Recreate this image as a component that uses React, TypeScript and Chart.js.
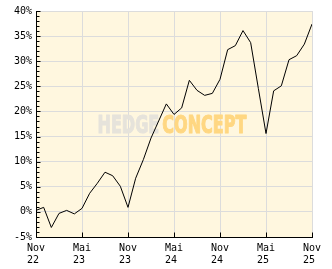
import React, { useEffect, useRef } from 'react';
import { Chart, registerables } from 'chart.js';

Chart.register(...registerables);

// Monthly performance values (%), Nov 2022 .. Nov 2025
const perfValues = [
  0.3, 0.9, -3.1, -0.3, 0.3, -0.4, 0.7, 3.7, 5.7, 7.9, 7.2, 5.1,
  0.9, 6.7, 10.4, 14.7, 18.1, 21.5, 19.4, 20.7, 26.2, 24.2, 23.2, 23.6,
  26.4, 32.3, 33.1, 36.1, 33.7, 24.6, 15.6, 24.1, 25.1, 30.3, 31.1, 33.4,
  37.4,
];

// x tick labels every 6 months
const xTickMonths = ['Nov', 'Mai', 'Nov', 'Mai', 'Nov', 'Mai', 'Nov'];
const xTickYears = ['22', '23', '23', '24', '24', '25', '25'];
const xTickStep = 6;

const yMin = -5;
const yMax = 40;
const yStep = 5;

const FONT = { family: '"DejaVu Sans Mono", monospace', size: 10, lineHeight: 1.2 };

const decorPlugin = {
  id: 'decor',
  beforeDraw(chart: any) {
    const { ctx, chartArea } = chart;
    ctx.save();
    ctx.fillStyle = '#fff7df';
    ctx.fillRect(chartArea.left, chartArea.top, chartArea.right - chartArea.left, chartArea.bottom - chartArea.top);
    ctx.restore();
  },
  beforeDatasetsDraw(chart: any) {
    const { ctx, chartArea } = chart;
    ctx.save();
    ctx.font = 'bold 25px "DejaVu Sans", sans-serif';
    ctx.textBaseline = 'alphabetic';
    ctx.lineJoin = 'round';
    const w1 = ctx.measureText('HEDGE').width;
    const w2 = ctx.measureText('CONCEPT').width;
    const gap = 3;
    const targetW = 149;
    const sx = (targetW - gap) / (w1 + w2);
    const cx = (chartArea.left + chartArea.right) / 2 - 2;
    const startX = cx - targetW / 2;
    const baseY = (chartArea.top + chartArea.bottom) / 2 + 9;
    ctx.translate(startX, baseY);
    ctx.scale(sx, 1);
    ctx.lineWidth = 1.2;
    ctx.fillStyle = '#e6e3db';
    ctx.strokeStyle = '#e6e3db';
    ctx.fillText('HEDGE', 0, 0);
    ctx.strokeText('HEDGE', 0, 0);
    ctx.fillStyle = '#ffd782';
    ctx.strokeStyle = '#ffd782';
    ctx.fillText('CONCEPT', w1 + gap / sx, 0);
    ctx.strokeText('CONCEPT', w1 + gap / sx, 0);
    ctx.restore();
  },
  afterDraw(chart: any) {
    const { ctx, chartArea, scales } = chart;
    const L = Math.round(chartArea.left) + 0.5;
    const B = Math.round(chartArea.bottom) + 0.5;
    ctx.save();
    ctx.strokeStyle = '#000';
    ctx.lineWidth = 1;
    ctx.beginPath();
    ctx.moveTo(L, Math.round(chartArea.top));
    ctx.lineTo(L, B);
    ctx.lineTo(Math.round(chartArea.right) + 1, B);
    // y ticks (major every 5, minor every 1)
    for (let v = yMin; v <= yMax; v++) {
      const y = Math.round(scales.y.getPixelForValue(v)) + 0.5;
      const len = v % yStep === 0 ? 4 : 3;
      ctx.moveTo(L, y);
      ctx.lineTo(L + len, y);
    }
    // x ticks
    for (let i = 0; i < xTickMonths.length; i++) {
      const x = Math.round(scales.x.getPixelForValue(i * xTickStep)) + 0.5;
      ctx.moveTo(x, B);
      ctx.lineTo(x, B - 5);
    }
    ctx.stroke();
    ctx.restore();
  },
};

export default function App() {
  const ref = useRef<HTMLCanvasElement>(null);
  useEffect(() => {
    document.body.style.margin = '0';
    const canvas = ref.current!;
    const data = perfValues.map((v, i) => ({ x: i, y: v }));
    const chart = new Chart(canvas, {
      type: 'line',
      data: {
        datasets: [
          {
            data,
            borderColor: '#000',
            borderWidth: 1,
            pointRadius: 0,
            tension: 0,
            fill: false,
          },
        ],
      },
      options: {
        animation: false,
        responsive: false,
        maintainAspectRatio: false,
        devicePixelRatio: 1,
        layout: { padding: { top: 11, right: 20, left: 0, bottom: 0 } },
        plugins: { legend: { display: false }, tooltip: { enabled: false } },
        scales: {
          x: {
            type: 'linear',
            min: 0,
            max: (xTickMonths.length - 1) * xTickStep,
            afterBuildTicks: (s: any) => {
              s.ticks = xTickMonths.map((_, i) => ({ value: i * xTickStep }));
            },
            afterFit: (s: any) => {
              s.height = 32;
            },
            grid: { color: '#dcdcdc', lineWidth: 1, drawTicks: false },
            border: { display: false },
            ticks: {
              font: FONT,
              color: '#000',
              padding: 5,
              maxRotation: 0,
              autoSkip: false,
              callback: (v: any) => {
                const i = Math.round(Number(v) / xTickStep);
                return [xTickMonths[i], xTickYears[i] + ' '];
              },
            },
          },
          y: {
            min: yMin,
            max: yMax,
            afterFit: (s: any) => {
              s.width = 36;
            },
            grid: { color: '#dcdcdc', lineWidth: 1, drawTicks: false },
            border: { display: false },
            ticks: {
              stepSize: yStep,
              font: FONT,
              color: '#000',
              padding: 4,
              callback: (v: any) => v + '%',
            },
          },
        },
      },
      plugins: [decorPlugin],
    });
    return () => chart.destroy();
  }, []);
  return <canvas ref={ref} width={332} height={269} style={{ display: 'block', width: 332, height: 269 }} />;
}
